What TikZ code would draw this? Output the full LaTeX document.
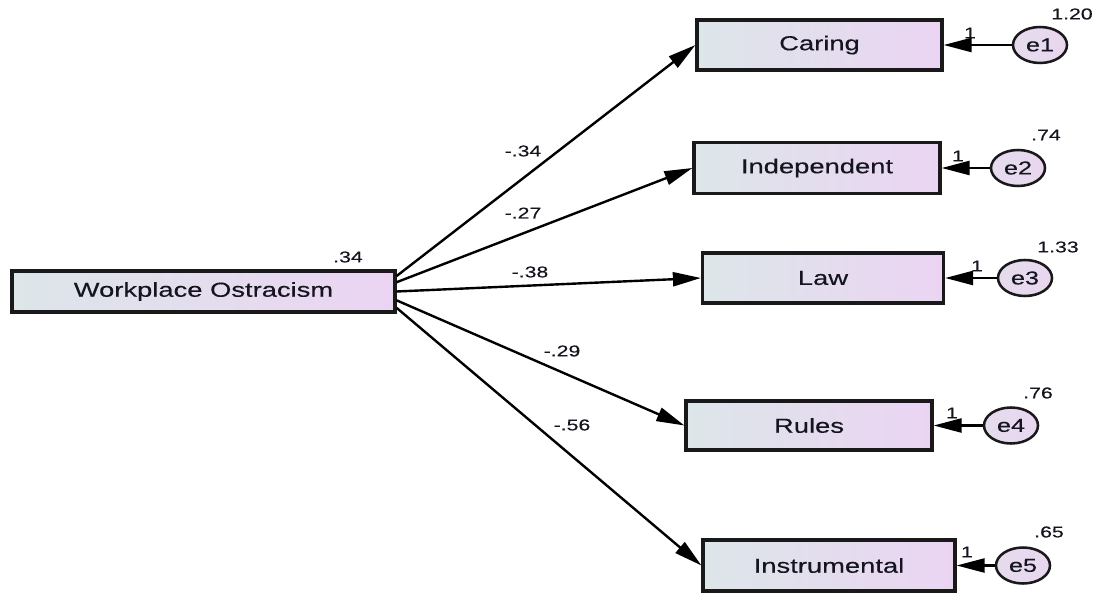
\documentclass[tikz,border=0pt]{standalone}
\usepackage{fontspec}
\setmainfont[FakeStretch=1.35,FakeBold=0.3]{Liberation Sans}
\usetikzlibrary{arrows.meta,shapes.geometric,calc}
\definecolor{boxL}{HTML}{DDE6E9}
\definecolor{boxR}{HTML}{EBD4F3}
\definecolor{ellL}{HTML}{E4DCEC}
\definecolor{ellR}{HTML}{EAD6F1}
\definecolor{txt}{HTML}{15151F}
\tikzset{
  var/.style={draw=black!90, line width=2.4pt, left color=boxL, right color=boxR,
    font=\fontsize{15.2}{17}\selectfont, text=txt, inner sep=0pt},
  err/.style={draw=black!90, ellipse, line width=1.9pt, left color=ellL, right color=ellR,
    minimum width=40.5pt, minimum height=27pt, inner sep=0pt,
    font=\fontsize{14}{16}\selectfont, text=txt},
  num/.style={font=\fontsize{11.8}{13}\selectfont, text=txt, inner sep=0pt},
  arr/.style={line width=1.8pt, -{Triangle[length=21pt,width=10.5pt]}},
}
\begin{document}
\begin{tikzpicture}[x=0.75pt,y=-0.75pt]
\useasboundingbox (0,0) rectangle (1095,595);
\node[var, minimum width=287.25pt, minimum height=30.75pt] (wo) at (203.5,291.5) {Workplace Ostracism};
\node[var, minimum width=183.75pt, minimum height=37.5pt] (caring) at (819.5,45) {Caring};
\node[var, minimum width=184.5pt, minimum height=38pt] (indep) at (817,168) {Independent};
\node[var, minimum width=180.75pt, minimum height=37.5pt] (law) at (823,278) {Law};
\node[var, minimum width=184.5pt, minimum height=36.75pt] (rules) at (809,425.5) {Rules};
\node[var, minimum width=189pt, minimum height=38.25pt] (instr) at (829,565.5) {Instrumental};

\node[err] (e1) at (1040,45) {e1};
\node[err] (e2) at (1018,168) {e2};
\node[err] (e3) at (1025,278) {e3};
\node[err] (e4) at (1011,425.5) {e4};
\node[err] (e5) at (1023,565.5) {e5};

\coordinate (s1) at ($(wo.north east)!0.15!(wo.south east)$);
\coordinate (s2) at ($(wo.north east)!0.29!(wo.south east)$);
\coordinate (s3) at ($(wo.north east)!0.50!(wo.south east)$);
\coordinate (s4) at ($(wo.north east)!0.70!(wo.south east)$);
\coordinate (s5) at ($(wo.north east)!0.87!(wo.south east)$);

\draw[arr] (s1) -- (caring.west);
\draw[arr] (s2) -- (indep.west);
\draw[arr] (s3) -- (law.west);
\draw[arr] (s4) -- (rules.west);
\draw[arr] (s5) -- (instr.west);

\draw[arr] (e1) -- (caring);
\draw[arr] (e2) -- (indep);
\draw[arr] (e3) -- (law);
\draw[arr] (e4) -- (rules);
\draw[arr] (e5) -- (instr);

\node[num] (lwo) at (348,257) {.34};
\node[num] (l1) at (523,151) {-.34};
\node[num] (l2) at (523,213) {-.27};
\node[num] (l3) at (530,272) {-.38};
\node[num] (l4) at (562,351) {-.29};
\node[num] (l5) at (572,425) {-.56};

\node[num] (v1) at (1072,14) {1.20};
\node[num] (v2) at (1046,135) {.74};
\node[num] (v3) at (1058,247) {1.33};
\node[num] (v4) at (1038,393) {.76};
\node[num] (v5) at (1049,532) {.65};

\node[num] (o1) at (970,33) {1};
\node[num] (o2) at (958,156) {1};
\node[num] (o3) at (977,266) {1};
\node[num] (o4) at (952,413) {1};
\node[num] (o5) at (967,552) {1};
\end{tikzpicture}
\end{document}
